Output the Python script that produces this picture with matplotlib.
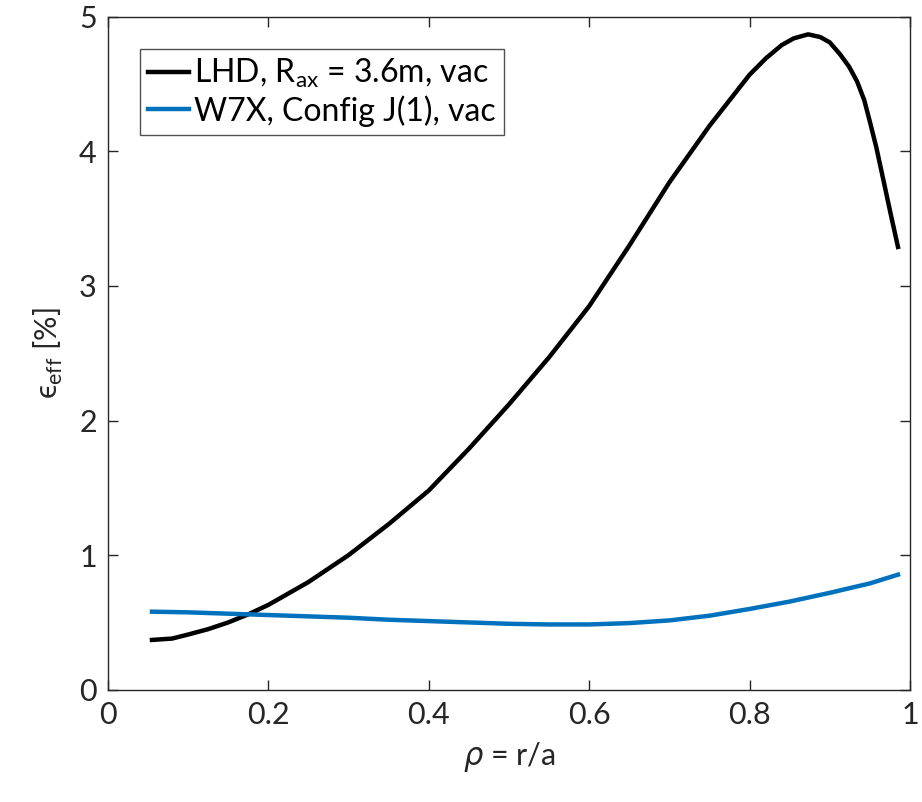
import numpy as np
import matplotlib.pyplot as plt

# LHD, R_ax = 3.6m, vacuum
rho_lhd = [0.055, 0.08, 0.10, 0.125, 0.15, 0.175, 0.20, 0.25, 0.30, 0.35, 0.40,
           0.45, 0.50, 0.55, 0.60, 0.65, 0.70, 0.75, 0.80, 0.82, 0.84, 0.855,
           0.873, 0.888, 0.90, 0.913, 0.924, 0.934, 0.943, 0.95, 0.958, 0.966,
           0.975, 0.985]
eps_lhd = [0.37, 0.38, 0.41, 0.45, 0.50, 0.56, 0.63, 0.80, 1.00, 1.23, 1.48,
           1.79, 2.12, 2.47, 2.85, 3.30, 3.77, 4.19, 4.57, 4.69, 4.79, 4.84,
           4.87, 4.85, 4.81, 4.72, 4.63, 4.52, 4.38, 4.22, 4.03, 3.81,
           3.56, 3.29]

# W7X, config J(1), vacuum
rho_w7x = [0.055, 0.10, 0.15, 0.20, 0.25, 0.30, 0.35, 0.40, 0.45, 0.50, 0.55,
           0.60, 0.65, 0.70, 0.75, 0.80, 0.85, 0.90, 0.95, 0.985]
eps_w7x = [0.58, 0.575, 0.565, 0.555, 0.545, 0.535, 0.52, 0.51, 0.50, 0.49,
           0.485, 0.485, 0.495, 0.515, 0.55, 0.60, 0.655, 0.72, 0.79, 0.855]

labels = ["LHD, R$_{\\mathregular{ax}}$ = 3.6m, vac", "W7X, Config J(1), vac"]

plt.rcParams['font.family'] = ['Lato', 'DejaVu Sans']
plt.rcParams['mathtext.fontset'] = 'custom'
plt.rcParams['mathtext.rm'] = 'Lato'

fig = plt.figure(figsize=(9.22, 8.02), dpi=100)
ax = fig.add_axes([0.117, 0.14, 0.87, 0.839])

ax.plot(rho_lhd, eps_lhd, color='black', lw=3.2, label=labels[0])
ax.plot(rho_w7x, eps_w7x, color='#0072BD', lw=3.2, label=labels[1])

ax.set_xlim(0, 1)
ax.set_ylim(0, 5)
ax.set_xticks([0, 0.2, 0.4, 0.6, 0.8, 1])
ax.set_xticklabels(['0', '0.2', '0.4', '0.6', '0.8', '1'])
ax.set_yticks([0, 1, 2, 3, 4, 5])
ax.tick_params(direction='in', top=True, right=True, length=7, width=1,
               labelsize=22, colors='#262626', pad=8)
for s in ax.spines.values():
    s.set_color('#262626')
    s.set_linewidth(1)

ax.set_xlabel(r'$\rho$ = r/a', fontsize=22, color='#262626', labelpad=8)
ax.set_ylabel('\u03f5$_{\\mathregular{eff}}$ [%]', fontsize=22, color='#262626',
              labelpad=10)

leg = ax.legend(loc='upper left', fontsize=23, frameon=True, fancybox=False,
                edgecolor='#262626', handlelength=1.3, handletextpad=0.15,
                borderpad=0.25, labelspacing=0.15, borderaxespad=1.0)
leg.get_frame().set_linewidth(1)

fig.savefig('out.png', dpi=100, facecolor='white')
